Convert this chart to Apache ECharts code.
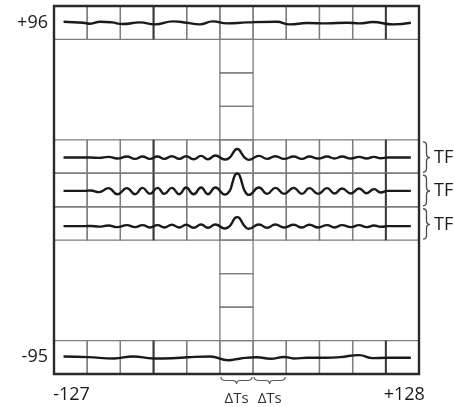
<!DOCTYPE html>
<html>
<head>
<meta charset="utf-8">
<script src="https://cdn.jsdelivr.net/npm/echarts@6/dist/echarts.min.js"></script>
<style>
  html, body { margin: 0; padding: 0; background: #fff; }
  #chart { width: 454px; height: 407px; }
</style>
</head>
<body>
<div id="chart"></div>
<script>
// ──── data ────
const xTickValues = [-127, 128];
const xTickLabels = ['-127', '+128'];
const yTickValues = [5, -5];
const yTickLabels = ['+96', '-95'];

// cell layout of the scope grid (11 x 11 cells)
const GRID_COLS = 11;
const GRID_ROWS = 11;
const bandRows = [0, 4, 5, 6, 10];      // full-width rows
const gapRows = [1, 2, 3, 7, 8, 9];     // only the centre column
const centreCol = 5;
const heavyCols = [3, 10];              // darker vertical lines inside the bands

const tfRows = [4, 5, 6];
const tfLabels = ['TF', 'TF', 'TF'];
const deltaCols = [5, 6];
const deltaLabels = ['ΔTs', 'ΔTs'];

// top trace (row 0)
const topX = [-127, -112.5, -107.5, -100, -91.5, -83.5, -71, -60, -46.5, -36.5, -27, -17.5, -7, 7.5, 29.5, 39, 52, 66.5, 81, 90.5, 100, 115, 128];
const topY = [0.03, 0.0, -0.03, 0.03, 0.01, -0.04, 0.01, -0.05, 0.04, 0.0, -0.05, 0.04, -0.02, 0.01, 0.03, -0.05, -0.01, -0.02, 0.0, -0.02, 0.02, -0.05, 0.0];

// bottom trace (row 10)
const botX = [-127, -109, -90, -76, -61, -47, -36, -19.5, -6, 3, 15, 25, 35, 42, 52, 66, 76, 90, 100, 110, 128];
const botY = [0.025, 0.005, -0.035, 0.025, -0.035, -0.03, 0.0, 0.025, -0.09, -0.035, 0.0, -0.045, 0.01, -0.035, -0.015, -0.015, 0.005, 0.065, -0.025, -0.015, -0.015];

// the three TF traces share sample positions
const tfX = [-127, -111, -107, -101, -94, -87.5, -80.5, -74.5, -69, -63.5, -58, -53, -47.5, -42, -37, -31.5,
    -26, -21, -15.5, -8.5, -5, -3, -1, 0.5, 2, 4, 6, 9, 16.5, 22.5, 28.5, 35, 42, 48, 53.5, 60,
    66.5, 72, 77.5, 84, 90, 95.5, 101, 106, 111, 128];
const tf1 = [0, 0, 0, -0.01, 0.02, -0.03, 0.03, -0.04, 0.03, -0.04, 0.03, -0.04, 0.04, -0.04, 0.04, -0.05,
    0.05, -0.05, 0.06, -0.06, 0, 0.11, 0.23, 0.255, 0.23, 0.11, 0, -0.07, 0.05, -0.04, 0.04, -0.04,
    0.03, -0.04, 0.03, -0.03, 0.03, -0.03, 0.03, -0.03, 0.02, -0.03, 0.02, -0.02, 0, 0];
const tf2 = [0, 0, 0.01, -0.04, 0.08, -0.1, 0.08, -0.1, 0.09, -0.09, 0.09, -0.09, 0.09, -0.1, 0.1, -0.1,
    0.1, -0.1, 0.1, -0.11, 0, 0.24, 0.48, 0.52, 0.48, 0.24, 0, -0.12, 0.1, -0.09, 0.09, -0.09,
    0.09, -0.09, 0.08, -0.09, 0.08, -0.08, 0.07, -0.08, 0.07, -0.07, 0.05, -0.05, 0, 0];
const tf3 = [0, 0, 0.005, -0.015, 0.02, -0.03, 0.03, -0.03, 0.03, -0.04, 0.03, -0.04, 0.04, -0.04, 0.04, -0.05,
    0.05, -0.05, 0.05, -0.07, 0, 0.12, 0.25, 0.27, 0.25, 0.12, 0, -0.08, 0.05, -0.05, 0.05, -0.04,
    0.04, -0.04, 0.04, -0.04, 0.03, -0.04, 0.03, -0.03, 0.03, -0.03, 0.02, -0.02, 0, 0];
const tfBase = [-0.03, -0.025, -0.08];   // trace baseline relative to row centre

// ──── helpers ────
const FONT = '"Open Sans", "DejaVu Sans", sans-serif';
const rowCentre = r => 5 - r;

function trace(row, xs, ys, base) {
    return {
        type: 'line',
        xAxisIndex: 0,
        yAxisIndex: 0,
        smooth: 0.5,
        symbol: 'none',
        z: 5,
        lineStyle: { color: '#1a1a1a', width: 2.4 },
        data: xs.map((x, i) => [x, rowCentre(row) + (base || 0) + ys[i]]),
    };
}

const cells = [];
bandRows.forEach(r => { for (let c = 0; c < GRID_COLS; c++) cells.push([c, r]); });
gapRows.forEach(r => cells.push([centreCol, r]));

const chart = echarts.init(document.getElementById('chart'), null, { renderer: 'canvas' });

chart.setOption({
    animation: false,
    backgroundColor: '#fff',
    grid: { left: 54, top: 6, width: 365, height: 368, show: false },
    xAxis: [
        {
            type: 'value', min: -134, max: 134,
            axisLine: { show: false }, axisTick: { show: false }, splitLine: { show: false },
            axisLabel: {
                customValues: xTickValues,
                margin: 11,
                formatter: v => (v === xTickValues[0] ? '{l|' : '{r|') + xTickLabels[xTickValues.indexOf(v)] + '}',
                rich: {
                    l: { fontSize: 18, fontFamily: FONT, color: '#1a1a1a', lineHeight: 20, padding: [0, 0, 0, 16] },
                    r: { fontSize: 18, fontFamily: FONT, color: '#1a1a1a', lineHeight: 20, padding: [0, 13, 0, 0] },
                },
            },
        },
        { type: 'value', min: 0, max: GRID_COLS, show: false },
    ],
    yAxis: [
        {
            type: 'value', min: -5.5, max: 5.5,
            axisLine: { show: false }, axisTick: { show: false }, splitLine: { show: false },
            axisLabel: {
                customValues: yTickValues,
                margin: 6,
                fontSize: 18, fontFamily: FONT, color: '#1a1a1a',
                formatter: v => yTickLabels[yTickValues.indexOf(v)],
            },
        },
        { type: 'value', min: 0, max: GRID_ROWS, inverse: true, show: false },
    ],
    series: [
        // grid cells
        {
            type: 'custom', xAxisIndex: 1, yAxisIndex: 1, z: 2, silent: true,
            data: cells,
            renderItem(params, api) {
                const c = api.value(0), r = api.value(1);
                const p0 = api.coord([c, r]);
                const p1 = api.coord([c + 1, r + 1]);
                const kids = [{
                    type: 'rect',
                    shape: { x: p0[0], y: p0[1], width: p1[0] - p0[0], height: p1[1] - p0[1] },
                    style: { fill: 'none', stroke: '#7d7d7d', lineWidth: 1.3 },
                }];
                if (heavyCols.includes(c) && bandRows.includes(r)) {
                    kids.push({
                        type: 'line',
                        shape: { x1: p0[0], y1: p0[1], x2: p0[0], y2: p1[1] },
                        style: { stroke: '#3a3a3a', lineWidth: 2 },
                    });
                }
                return { type: 'group', children: kids };
            },
        },
        // outer frame
        {
            type: 'custom', xAxisIndex: 1, yAxisIndex: 1, z: 3, silent: true,
            data: [[0, 0]],
            renderItem(params, api) {
                const p0 = api.coord([0, 0]);
                const p1 = api.coord([GRID_COLS, GRID_ROWS]);
                return {
                    type: 'rect',
                    shape: { x: p0[0], y: p0[1], width: p1[0] - p0[0], height: p1[1] - p0[1] },
                    style: { fill: 'none', stroke: '#2a2a2a', lineWidth: 2.4 },
                };
            },
        },
        // TF braces on the right
        {
            type: 'custom', xAxisIndex: 1, yAxisIndex: 1, z: 3, silent: true,
            data: tfRows.map(r => [GRID_COLS, r]),
            renderItem(params, api) {
                const r = api.value(1);
                const top = api.coord([GRID_COLS, r]);
                const bot = api.coord([GRID_COLS, r + 1]);
                const x0 = top[0] + 4, xb = x0 + 3.5, tip = x0 + 7;
                const y0 = top[1] + 2, y1 = bot[1] - 1, ym = (top[1] + bot[1]) / 2 + 1;
                const d = `M${x0} ${y0} Q${xb} ${y0} ${xb} ${y0 + 4} L${xb} ${ym - 4} Q${xb} ${ym} ${tip} ${ym} `
                    + `Q${xb} ${ym} ${xb} ${ym + 4} L${xb} ${y1 - 4} Q${xb} ${y1} ${x0} ${y1}`;
                return {
                    type: 'group',
                    children: [
                        { type: 'path', shape: { pathData: d }, style: { fill: 'none', stroke: '#4a4a4a', lineWidth: 1.3 } },
                        {
                            type: 'text',
                            style: {
                                text: tfLabels[params.dataIndex], x: tip + 4, y: ym,
                                fontSize: 18, fontFamily: FONT, fill: '#1a1a1a',
                                align: 'left', verticalAlign: 'middle', textAlign: 'left', textVerticalAlign: 'middle',
                            },
                        },
                    ],
                };
            },
        },
        // ΔTs braces underneath
        {
            type: 'custom', xAxisIndex: 1, yAxisIndex: 1, z: 3, silent: true,
            data: deltaCols.map(c => [c, GRID_ROWS]),
            renderItem(params, api) {
                const c = api.value(0);
                const a = api.coord([c, GRID_ROWS]);
                const b = api.coord([c + 1, GRID_ROWS]);
                const xa = a[0] + 1, xbb = b[0] - 1, xm = (a[0] + b[0]) / 2;
                const t = a[1] + 3, h = 3.5;
                const d = `M${xa} ${t} Q${xa} ${t + h} ${xa + 5} ${t + h} L${xm - 4} ${t + h} Q${xm} ${t + h} ${xm} ${t + 2 * h} `
                    + `Q${xm} ${t + h} ${xm + 4} ${t + h} L${xbb - 5} ${t + h} Q${xbb} ${t + h} ${xbb} ${t}`;
                return {
                    type: 'group',
                    children: [
                        { type: 'path', shape: { pathData: d }, style: { fill: 'none', stroke: '#5a5a5a', lineWidth: 1.2 } },
                        {
                            type: 'text',
                            style: {
                                text: deltaLabels[params.dataIndex], x: xm, y: a[1] + 25,
                                fontSize: 15, fontFamily: FONT, fill: '#333',
                                align: 'center', verticalAlign: 'middle', textAlign: 'center', textVerticalAlign: 'middle',
                            },
                        },
                    ],
                };
            },
        },
        // traces
        trace(0, topX, topY, 0),
        trace(4, tfX, tf1, tfBase[0]),
        trace(5, tfX, tf2, tfBase[1]),
        trace(6, tfX, tf3, tfBase[2]),
        trace(10, botX, botY, 0),
    ],
});
</script>
</body>
</html>
